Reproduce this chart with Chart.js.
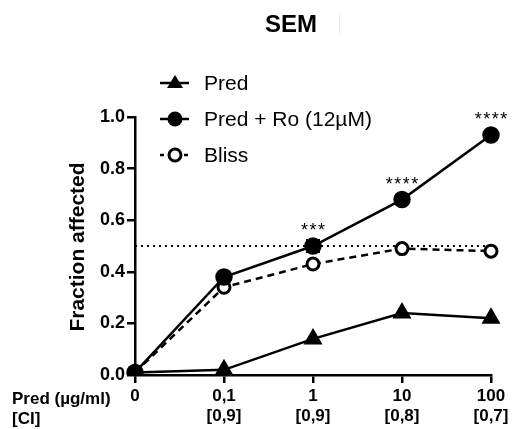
<!DOCTYPE html>
<html>
<head>
<meta charset="utf-8">
<script src="https://cdn.jsdelivr.net/npm/chart.js@4.4.1/dist/chart.umd.min.js"></script>
<style>
  html, body { margin: 0; padding: 0; background: #fff; }
  #wrap { width: 517px; height: 429px; }
</style>
</head>
<body>
<div id="wrap"><canvas id="semChart" width="517" height="429"></canvas></div>
<script>
// data
const doses = ['0', '0,1', '1', '10', '100'];
const ciValues = ['', '[0,9]', '[0,9]', '[0,8]', '[0,7]'];
const predValues = [0.01, 0.02, 0.14, 0.24, 0.22];
const predRoValues = [0.01, 0.38, 0.50, 0.68, 0.93];
const predRoErrors = [0, 0, 0.022, 0, 0];
const blissValues = [0.01, 0.34, 0.43, 0.49, 0.48];
const significance = ['', '', '***', '****', '****'];
const refLevel = 0.5;
const yTicks = [0, 0.2, 0.4, 0.6, 0.8, 1.0];

const FONT = "Arial, 'Liberation Sans', sans-serif";

// title, legend, stars, error caps and the left-hand row captions
const extrasPlugin = {
    id: 'extras',
    afterDatasetsDraw(chart) {
        const ctx = chart.ctx;
        const x = chart.scales.x, y = chart.scales.y;
        ctx.save();
        ctx.strokeStyle = '#000';
        ctx.lineWidth = 2.5;
        predRoErrors.forEach((e, i) => {
            if (!e) return;
            const px = x.getPixelForValue(i);
            const top = y.getPixelForValue(predRoValues[i] + e);
            const bot = y.getPixelForValue(predRoValues[i] - e);
            ctx.beginPath();
            ctx.moveTo(px, top); ctx.lineTo(px, bot);
            ctx.moveTo(px - 7, top); ctx.lineTo(px + 7, top);
            ctx.moveTo(px - 7, bot); ctx.lineTo(px + 7, bot);
            ctx.stroke();
        });
        ctx.restore();
    },
    afterDraw(chart) {
        const ctx = chart.ctx;
        const x = chart.scales.x, y = chart.scales.y;
        ctx.save();

        // title
        ctx.fillStyle = '#000';
        ctx.font = 'bold 24px ' + FONT;
        ctx.textAlign = 'center';
        ctx.textBaseline = 'middle';
        ctx.fillText('SEM', 291, 25);
        ctx.strokeStyle = '#e8e8e8';
        ctx.lineWidth = 1;
        ctx.beginPath(); ctx.moveTo(339.5, 15); ctx.lineTo(339.5, 33); ctx.stroke();

        // significance stars
        ctx.font = '18px ' + FONT;
        ctx.textBaseline = 'alphabetic';
        ctx.textAlign = 'left';
        ctx.letterSpacing = '1.5px';
        significance.forEach((s, i) => {
            if (!s) return;
            const w = ctx.measureText(s).width - 1.5;
            ctx.fillText(s, x.getPixelForValue(i) - w / 2, y.getPixelForValue(predRoValues[i]) - 10);
        });
        ctx.letterSpacing = '0px';

        // row captions under the axis
        ctx.font = 'bold 17px ' + FONT;
        ctx.textAlign = 'left';
        ctx.textBaseline = 'middle';
        ctx.fillText('Pred (\u00b5g/ml)', 12, 399);
        ctx.fillText('[CI]', 12, 419);

        // y-axis title
        ctx.save();
        ctx.translate(78, 247);
        ctx.rotate(-Math.PI / 2);
        ctx.textAlign = 'center';
        ctx.font = 'bold 21px ' + FONT;
        ctx.fillText('Fraction affected', 0, 0);
        ctx.restore();

        // legend
        const items = [
            { label: 'Pred', style: 'triangle', fill: '#000', dash: [] },
            { label: 'Pred + Ro (12\u00b5M)', style: 'circle', fill: '#000', dash: [] },
            { label: 'Bliss', style: 'circle', fill: '#fff', dash: [4, 4] }
        ];
        items.forEach((it, i) => {
            const ly = 83 + i * 36;
            ctx.strokeStyle = '#000';
            ctx.lineWidth = 2.5;
            ctx.setLineDash(it.dash);
            ctx.beginPath(); ctx.moveTo(160, ly); ctx.lineTo(189, ly); ctx.stroke();
            ctx.setLineDash([]);
            if (it.style === 'triangle') {
                ctx.fillStyle = '#000';
                ctx.beginPath();
                ctx.moveTo(175, ly - 8); ctx.lineTo(183, ly + 5); ctx.lineTo(167, ly + 5);
                ctx.closePath(); ctx.fill();
            } else {
                ctx.beginPath(); ctx.arc(175, ly, it.fill === '#fff' ? 6 : 7.5, 0, Math.PI * 2);
                ctx.fillStyle = it.fill; ctx.fill();
                if (it.fill === '#fff') { ctx.lineWidth = 3; ctx.stroke(); }
            }
            ctx.fillStyle = '#000';
            ctx.font = '21px ' + FONT;
            ctx.textAlign = 'left';
            ctx.fillText(it.label, 204, ly + 1);
        });
        ctx.restore();
    }
};

new Chart(document.getElementById('semChart').getContext('2d'), {
    type: 'line',
    data: {
        labels: doses.map((d, i) => [d, ciValues[i]]),
        datasets: [
            {
                label: 'Pred',
                data: predValues,
                borderColor: '#000',
                backgroundColor: '#000',
                borderWidth: 2.5,
                pointStyle: 'triangle',
                pointRadius: 8.5,
                tension: 0
            },
            {
                label: 'Pred + Ro (12\u00b5M)',
                data: predRoValues,
                borderColor: '#000',
                backgroundColor: '#000',
                borderWidth: 2.5,
                pointStyle: 'circle',
                pointRadius: 7.5,
                tension: 0
            },
            {
                label: 'Bliss',
                data: blissValues,
                borderColor: '#000',
                backgroundColor: '#fff',
                borderWidth: 2.5,
                borderDash: [7, 5],
                pointStyle: 'circle',
                pointRadius: 6,
                pointBorderWidth: 3,
                tension: 0
            },
            {
                label: 'ref',
                data: doses.map(() => refLevel),
                borderColor: '#000',
                borderWidth: 2,
                borderDash: [2, 4],
                pointRadius: 0
            }
        ]
    },
    options: {
        responsive: false,
        animation: false,
        layout: { padding: { top: 117, right: 26, left: 0, bottom: 0 } },
        plugins: {
            legend: { display: false },
            tooltip: { enabled: false }
        },
        scales: {
            x: {
                type: 'category',
                offset: false,
                grid: { drawOnChartArea: false, drawTicks: true, tickLength: 8, color: '#000', lineWidth: 2.5 },
                border: { display: true, color: '#000', width: 2.5 },
                ticks: {
                    color: '#000',
                    font: { family: FONT, size: 17, weight: 'bold', lineHeight: 1.2 },
                    padding: 3,
                    maxRotation: 0,
                    autoSkip: false
                },
                afterFit(scale) { scale.height = 54; }
            },
            y: {
                min: 0,
                max: 1.0,
                afterBuildTicks(scale) { scale.ticks = yTicks.map(v => ({ value: v })); },
                grid: { drawOnChartArea: false, drawTicks: true, tickLength: 8, color: '#000', lineWidth: 2.5 },
                border: { display: true, color: '#000', width: 2.5 },
                ticks: {
                    color: '#000',
                    font: { family: FONT, size: 18, weight: 'bold' },
                    padding: 2,
                    callback: v => Number(v).toFixed(1)
                },
                afterFit(scale) { scale.width = 135; }
            }
        }
    },
    plugins: [extrasPlugin]
});
</script>
</body>
</html>
